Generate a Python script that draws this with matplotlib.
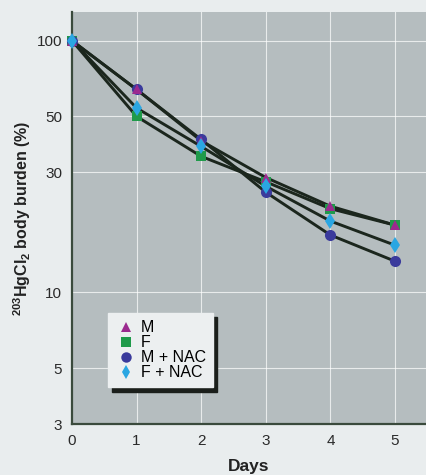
import matplotlib.pyplot as plt
from matplotlib.ticker import FixedLocator, NullLocator, FixedFormatter

days = [0, 1, 2, 3, 4, 5]
burden_m = [100, 64, 40, 28.6, 22, 18.5]
burden_f = [100, 50, 34.7, 27.5, 21.5, 18.5]
burden_m_nac = [100, 64, 40.5, 25, 16.9, 13.3]
burden_f_nac = [100, 54, 38, 26.4, 19.2, 15.4]

y_ticks = [3, 5, 10, 30, 50, 100]
x_ticks = [0, 1, 2, 3, 4, 5]

plt.rcParams['font.family'] = ['Liberation Sans Narrow', 'Liberation Sans', 'DejaVu Sans']
plt.rcParams['mathtext.fontset'] = 'custom'
plt.rcParams['mathtext.rm'] = 'Liberation Sans'
plt.rcParams['mathtext.bf'] = 'Liberation Sans:bold'

fig = plt.figure(figsize=(4.26, 4.75), dpi=100, facecolor="#e9edee")
ax = fig.add_axes([72 / 426, 1 - 424 / 475, 1 - 72 / 426, 412 / 475])
ax.set_facecolor("#b5bdbf")

line_color = "#1b261d"
series = [
    (burden_f, "s", "#1f9a4a", 7, "F", 3),
    (burden_m_nac, "o", "#3a3a9c", 8, "M + NAC", 4),
    (burden_m, "^", "#9b2a8f", 7.5, "M", 5),
    (burden_f_nac, "d", "#2aa6e2", 8, "F + NAC", 6),
]
for vals, mk, col, ms, lab, z in series:
    ax.plot(days, vals, color=line_color, linewidth=2.1, zorder=2)
for vals, mk, col, ms, lab, z in series:
    ax.plot(days, vals, linestyle="none", marker=mk, color=col, markersize=ms,
            markeredgewidth=0, zorder=z, clip_on=False)

ax.set_yscale("log")
ax.set_ylim(3, 130)
ax.set_xlim(0, 5.48)
ax.yaxis.set_major_locator(FixedLocator(y_ticks))
ax.yaxis.set_major_formatter(FixedFormatter([str(t) for t in y_ticks]))
ax.yaxis.set_minor_locator(NullLocator())
ax.set_xticks(x_ticks)

for v in [5, 10, 30, 50, 100]:
    ax.axhline(v, color="white", linewidth=0.8, alpha=0.7, zorder=1)
for d in [1, 2, 3, 4, 5]:
    ax.axvline(d, color="white", linewidth=0.8, alpha=0.7, zorder=1)

for s in ["top", "right"]:
    ax.spines[s].set_visible(False)
for s in ["left", "bottom"]:
    ax.spines[s].set_color("#3a4a3c")
    ax.spines[s].set_linewidth(1.6)
ax.tick_params(length=0, labelsize=11, colors="#2a2a2a", pad=7)

ax.set_ylabel("$\\mathbf{^{203}HgCl_{2}}$ body burden (%)", fontsize=11.5,
              fontweight="bold", color="#222222", labelpad=3)
ax.set_xlabel("Days", fontsize=12.5, fontweight="bold", color="#222222", labelpad=8)

# legend with a drop shadow
handles = [
    plt.Line2D([], [], linestyle="none", marker="^", color="#9b2a8f", markersize=7.5, markeredgewidth=0),
    plt.Line2D([], [], linestyle="none", marker="s", color="#1f9a4a", markersize=6.5, markeredgewidth=0),
    plt.Line2D([], [], linestyle="none", marker="o", color="#3a3a9c", markersize=7.5, markeredgewidth=0),
    plt.Line2D([], [], linestyle="none", marker="d", color="#2aa6e2", markersize=7.5, markeredgewidth=0),
]
leg = ax.legend(handles, ["M", "F", "M + NAC", "F + NAC"], loc="upper left",
                bbox_to_anchor=(36 / 354, 1 - 301 / 412), fontsize=11.5,
                frameon=True, fancybox=False, shadow={"color": "#1b1f1b", "alpha": 1, "ox": 3, "oy": -3},
                facecolor="#eceff0", edgecolor="#eceff0", framealpha=1,
                handletextpad=0.3, labelspacing=0.0, borderpad=0.45, handlelength=1.3,
                borderaxespad=0)
leg.set_zorder(10)

fig.savefig("out.png", dpi=100, facecolor=fig.get_facecolor())
